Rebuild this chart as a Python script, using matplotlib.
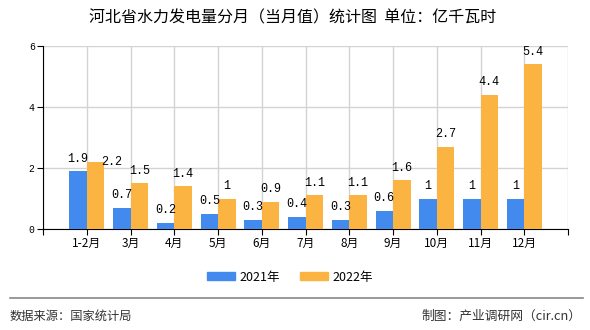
import numpy as np
import matplotlib
matplotlib.use('Agg')
import matplotlib.pyplot as plt
from matplotlib.patches import Patch

plt.rcParams['font.family'] = ['Noto Sans CJK SC', 'DejaVu Sans']

# data
months = ['1-2月', '3月', '4月', '5月', '6月', '7月', '8月', '9月', '10月', '11月', '12月']
v2021 = [1.9, 0.7, 0.2, 0.5, 0.3, 0.4, 0.3, 0.6, 1, 1, 1]
v2022 = [2.2, 1.5, 1.4, 1, 0.9, 1.1, 1.1, 1.6, 2.7, 4.4, 5.4]
labels2021 = ['1.9', '0.7', '0.2', '0.5', '0.3', '0.4', '0.3', '0.6', '1', '1', '1']
labels2022 = ['2.2', '1.5', '1.4', '1', '0.9', '1.1', '1.1', '1.6', '2.7', '4.4', '5.4']

c2021 = '#428AEE'
c2022 = '#FBB342'

fig = plt.figure(figsize=(5.9, 3.3), dpi=100)
ax = fig.add_axes([43/590, 1-229/330, 525/590, 183/330])

x = np.arange(len(months))
w = 0.4
ax.bar(x - w/2, v2021, w, color=c2021, zorder=3)
ax.bar(x + w/2, v2022, w, color=c2022, zorder=3)

# value labels (orange label slides aside when it would hit the blue one)
off = 0.41
for xi, a, b, sa, sb in zip(x, v2021, v2022, labels2021, labels2022):
    ax.text(xi - w/2, a + off, sa, ha='center', va='center', fontsize=8.5,
            family='Liberation Mono', zorder=4)
    if abs(b - a) < 0.4:
        ax.text(xi + w/2 + 0.37, b, sb, ha='center', va='center', fontsize=8.5,
                family='Liberation Mono', zorder=4)
    else:
        ax.text(xi + w/2, b + off, sb, ha='center', va='center', fontsize=8.5,
                family='Liberation Mono', zorder=4)

ax.set_xlim(-1, len(months))
ax.set_ylim(0, 6)
ax.set_xticks(np.arange(-1, len(months) + 1))
ax.set_xticklabels([''] + months + [''], fontsize=8.5)
ax.set_yticks([0, 2, 4, 6])
ax.set_yticklabels(['0', '2', '4', '6'], fontsize=7, family='Liberation Mono')
ax.tick_params(axis='both', length=4, width=0.8, color='black', pad=2)
ax.grid(True, color='#d3d3d3', linewidth=1, zorder=0)
for s in ['top', 'right']:
    ax.spines[s].set_visible(False)
ax.spines['left'].set_color('black')
ax.spines['bottom'].set_color('black')

fig.text(293/590, 1-18/330, '河北省水力发电量分月（当月值）统计图  单位：亿千瓦时',
         ha='center', va='center', fontsize=11.5)

# legend
fig.legend(handles=[Patch(color=c2021, label='2021年'), Patch(color=c2022, label='2022年')],
           loc='center', bbox_to_anchor=(290/590, 1-277/330), ncol=2, frameon=False,
           fontsize=9, handlelength=2.2, handleheight=0.6, columnspacing=1.6,
           handletextpad=0.4)

# footer
fig.add_artist(plt.Line2D([10/590, 583/590], [1-298/330, 1-298/330], color='#888888', linewidth=1.2))
fig.text(10/590, 1-316/330, '数据来源：国家统计局', ha='left', va='center', fontsize=8.8, color='#333333')
fig.text(581/590, 1-316/330, '制图：产业调研网（cir.cn）', ha='right', va='center', fontsize=9.2, color='#333333')

fig.savefig('out.png', dpi=100)
